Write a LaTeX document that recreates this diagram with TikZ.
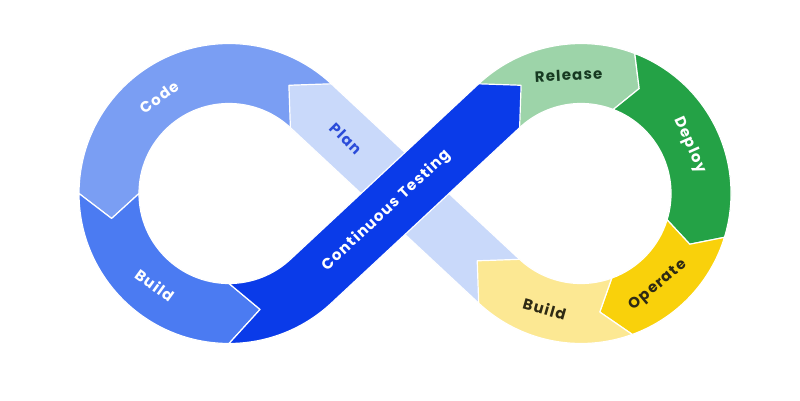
\documentclass[tikz,border=0pt]{standalone}
\usepackage{fontspec}
\usetikzlibrary{calc}
\newfontfamily\lblfamily{Poppins}[LetterSpace=8]
\definecolor{codec}{HTML}{7A9EF3}
\definecolor{buildl}{HTML}{4B7BF2}
\definecolor{testc}{HTML}{0A3BE9}
\definecolor{planc}{HTML}{C9D9FA}
\definecolor{plantext}{HTML}{2B4CD9}
\definecolor{releasec}{HTML}{9DD4A9}
\definecolor{releasetext}{HTML}{173A22}
\definecolor{deployc}{HTML}{24A246}
\definecolor{operatec}{HTML}{F9D10B}
\definecolor{buildy}{HTML}{FCE893}
\definecolor{darktext}{HTML}{2E2A14}
\newcommand{\LabelF}{\lblfamily\bfseries\fontsize{15}{17}\selectfont}

\begin{document}
\begin{tikzpicture}[x=1pt, y=1pt,
    seg/.style={draw=white, line width=1.2pt, line join=round},
    lbl/.style={font=\LabelF, inner sep=0pt}]
  \useasboundingbox[fill=white] (0,0) rectangle (800,400);
  \coordinate (L) at (229,206.5);
  \coordinate (R) at (581,206.5);

  % left loop
  \path[seg, fill=codec] ($(L)+(40:150)$) arc[start angle=40, end angle=180, radius=150pt]
    -- ($(L)+(192:120)$) -- ($(L)+(180:90)$) arc[start angle=180, end angle=40, radius=90pt] -- cycle;
  \path[seg, fill=buildl] ($(L)+(180:150)$) arc[start angle=180, end angle=270, radius=150pt]
    -- ($(L)+(285:120)$) -- ($(L)+(270:90)$) arc[start angle=270, end angle=180, radius=90pt]
    -- ($(L)+(192:120)$) -- cycle;

  % right loop
  \path[seg, fill=releasec] ($(R)+(140:150)$) arc[start angle=140, end angle=69, radius=150pt]
    -- ($(R)+(61:120)$) -- ($(R)+(69:90)$) arc[start angle=69, end angle=140, radius=90pt] -- cycle;
  \path[seg, fill=deployc] ($(R)+(69:150)$) arc[start angle=69, end angle=-17, radius=150pt]
    -- ($(R)+(-25:120)$) -- ($(R)+(-17:90)$) arc[start angle=-17, end angle=69, radius=90pt]
    -- ($(R)+(61:120)$) -- cycle;
  \path[seg, fill=operatec] ($(R)+(-17:150)$) arc[start angle=-17, end angle=-70, radius=150pt]
    -- ($(R)+(-81:120)$) -- ($(R)+(-70:90)$) arc[start angle=-70, end angle=-17, radius=90pt]
    -- ($(R)+(-25:120)$) -- cycle;

  % crossing bands
  \path[seg, fill=planc] ($(R)+(227:150)$) -- ($(L)+(47:90)$) -- ($(L)+(47:120)+(137:30)$)
    -- ($(L)+(47:150)$) -- ($(R)+(227:90)$) -- cycle;
  \path[seg, fill=buildy] ($(R)+(-70:150)$) arc[start angle=-70, end angle=-133, radius=150pt]
    -- ($(R)+(-133:120)+(137:30)$) -- ($(R)+(-133:90)$) arc[start angle=-133, end angle=-70, radius=90pt]
    -- ($(R)+(-81:120)$) -- cycle;
  \path[seg, fill=testc] ($(L)+(270:150)$) arc[start angle=270, end angle=313, radius=150pt]
    -- ($(R)+(133:90)$) -- ($(R)+(133:120)+(43:30)$) -- ($(R)+(133:150)$)
    -- ($(L)+(313:90)$) arc[start angle=313, end angle=270, radius=90pt]
    -- ($(L)+(285:120)$) -- cycle;

  % labels
  \node[lbl, text=white, rotate=36] (code) at ($(L)+(126:119)$) {Code};
  \node[lbl, text=white, rotate=-36] (buildleft) at ($(L)+(231:118)$) {Build};
  \node[lbl, text=white, rotate=43] (testing) at ($(L)!0.5!(R)+(223:25)$) {Continuous Testing};
  \node[lbl, text=plantext, rotate=-45] (plan) at ($(L)+(47:120)+(137:-48)$) {Plan};
  \node[lbl, text=releasetext, rotate=3] (release) at ($(R)+(96:119)$) {Release};
  \node[lbl, text=white, rotate=-66] (deploy) at ($(R)+(24:119)$) {Deploy};
  \node[lbl, text=darktext, rotate=40] (operate) at ($(R)+(-50:120)$) {Operate};
  \node[lbl, text=darktext, rotate=-16] (buildright) at ($(R)+(-107.5:121)$) {Build};
\end{tikzpicture}
\end{document}
